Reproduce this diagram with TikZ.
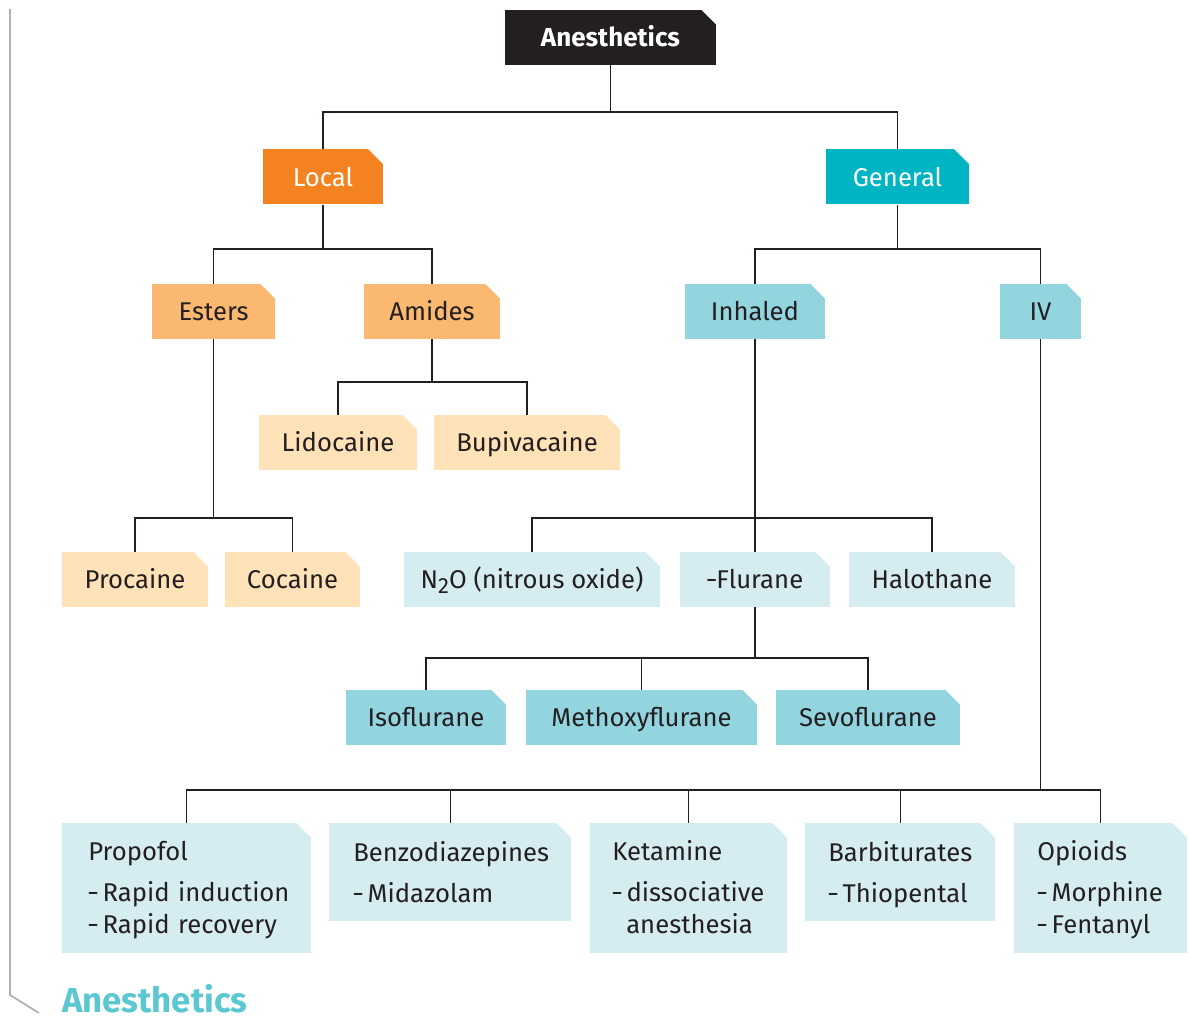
\documentclass[tikz,border=0pt]{standalone}
\usepackage{fontspec}
\setmainfont{Fira Sans}
\definecolor{ink}{HTML}{231F20}
\definecolor{cLocal}{HTML}{F58220}
\definecolor{cGeneral}{HTML}{00B5C3}
\definecolor{cOrangeM}{HTML}{FBB870}
\definecolor{cTealM}{HTML}{93D5DE}
\definecolor{cOrangeL}{HTML}{FFE2B8}
\definecolor{cTealL}{HTML}{D5EDF1}
\definecolor{cTitle}{HTML}{5BC7D1}
\definecolor{cBorder}{HTML}{B0B0B0}
\newcommand\shortdash{\scalebox{0.72}[1]{–}}
\newcommand\itemline[1]{\mbox{\shortdash\hspace{3.5pt}#1}}
\tikzset{
  cutbox/.style={rectangle, inner sep=0pt, minimum height=41.25pt,
    text height=17pt, text depth=3pt,
    font=\fontsize{19.25}{24.5}\selectfont, text=ink,
    path picture={\fill[white] ([xshift=0.5pt,yshift=0.5pt]path picture bounding box.north east) -- ++(-11.75pt,0) -- ++(11.75pt,-11.75pt) -- cycle;}},
  toplevel/.style={cutbox, fill=ink, text=white, font=\fontsize{19.5}{24}\selectfont\bfseries},
  lvlone/.style={cutbox, text=white},
  listbox/.style={cutbox, anchor=north west, fill=cTealL, align=left,
    inner ysep=0pt, text height=0pt, text width=#1},
  threeline/.style={minimum height=97.5pt, text depth=42pt},
  twoline/.style={minimum height=73.5pt, text depth=16.5pt},
  link/.style={draw=ink, line width=0.9pt},
}
\begin{document}
\begin{tikzpicture}[x=0.75pt,y=-0.75pt]
\useasboundingbox (0,0) rectangle (1189,1019);
\draw[cBorder, line width=1.3pt] (10,9) -- (10,995) -- (39,1013);

\node[toplevel, minimum width=158.25pt] (A) at (610.5,37.5) {Anesthetics};
\node[lvlone, fill=cLocal, minimum width=90pt] (L) at (323,177) {Local};
\node[lvlone, fill=cGeneral, minimum width=107.25pt] (G) at (897.5,177) {General};

\node[cutbox, fill=cOrangeM, minimum width=92.25pt] (Es) at (213.5,311.5) {Esters};
\node[cutbox, fill=cOrangeM, minimum width=102pt] (Am) at (432,311.5) {Amides};
\node[cutbox, fill=cTealM, minimum width=105pt] (In) at (755,311.5) {Inhaled};
\node[cutbox, fill=cTealM, minimum width=60.75pt] (IV) at (1040.5,311.5) {IV};

\node[cutbox, fill=cOrangeL, minimum width=118.5pt] (Li) at (338,442.5) {Lidocaine};
\node[cutbox, fill=cOrangeL, minimum width=139.5pt] (Bu) at (527,442.5) {Bupivacaine};
\node[cutbox, fill=cOrangeL, minimum width=109.5pt] (Pr) at (135,579.5) {Procaine};
\node[cutbox, fill=cOrangeL, minimum width=101.25pt] (Co) at (292.5,579.5) {Cocaine};

\node[cutbox, fill=cTealL, minimum width=192pt] (N2) at (532,579.5) {N\raisebox{-3.5pt}{\fontsize{16.5}{16.5}\selectfont 2}O (nitrous oxide)};
\node[cutbox, fill=cTealL, minimum width=112.5pt] (Fl) at (755,579.5) {\shortdash Flurane};
\node[cutbox, fill=cTealL, minimum width=124.5pt] (Ha) at (932,579.5) {Halothane};

\node[cutbox, fill=cTealM, minimum width=120pt] (Is) at (426,717.5) {Isoflurane};
\node[cutbox, fill=cTealM, minimum width=173.25pt] (Me) at (641.5,717.5) {Methoxyflurane};
\node[cutbox, fill=cTealM, minimum width=138pt] (Se) at (868,717.5) {Sevoflurane};

\node[listbox=147.75pt, threeline, inner xsep=19.5pt] (Po) at (62,823)
  {\mbox{Propofol}\\[6.25pt]\itemline{Rapid induction}\\\itemline{Rapid recovery}};
\node[listbox=145.5pt, twoline, inner xsep=18pt] (Be) at (329,823)
  {\mbox{Benzodiazepines}\\[6.25pt]\itemline{Midazolam}};
\node[listbox=114.75pt, threeline, inner xsep=16.5pt] (Ke) at (590,823)
  {\mbox{Ketamine}\\[6.25pt]\itemline{dissociative}\\\mbox{\hspace*{10.5pt}anesthesia}};
\node[listbox=108pt, twoline, inner xsep=17.25pt] (Ba) at (805,823)
  {\mbox{Barbiturates}\\[6.25pt]\itemline{Thiopental}};
\node[listbox=95.25pt, threeline, inner xsep=17.25pt] (Op) at (1014,823)
  {\mbox{Opioids}\\[6.25pt]\itemline{Morphine}\\\itemline{Fentanyl}};

% connectors
\draw[link] (A.south) -- (A.south |- 0,112) -| (L.north);
\draw[link] (A.south |- 0,112) -| (G.north);
\draw[link] (L.south) -- (L.south |- 0,249) -| (Es.north);
\draw[link] (L.south |- 0,249) -| (Am.north);
\draw[link] (G.south) -- (G.south |- 0,249) -| (In.north);
\draw[link] (G.south |- 0,249) -| (IV.north);
\draw[link] (Am.south) -- (Am.south |- 0,382) -| (Li.north);
\draw[link] (Am.south |- 0,382) -| (Bu.north);
\draw[link] (Es.south) -- (Es.south |- 0,518) -| (Pr.north);
\draw[link] (Es.south |- 0,518) -| (Co.north);
\draw[link] (In.south) -- (Fl.north);
\draw[link] (In.south |- 0,518) -| (N2.north);
\draw[link] (In.south |- 0,518) -| (Ha.north);
\draw[link] (Fl.south) -- (Fl.south |- 0,658) -| (Me.north);
\draw[link] (Fl.south |- 0,658) -| (Is.north);
\draw[link] (Fl.south |- 0,658) -| (Se.north);
\draw[link] (IV.south) -- (IV.south |- 0,790) -| (Op.north);
\draw[link] (IV.south |- 0,790) -| (Po.north);
\draw[link] (IV.south |- 0,790) -| (Be.north);
\draw[link] (IV.south |- 0,790) -| (Ke.north);
\draw[link] (IV.south |- 0,790) -| (Ba.north);

\node[anchor=base west, inner sep=0pt, text=cTitle, font=\fontsize{26}{30}\selectfont\bfseries] (T) at (62,1012) {Anesthetics};
\end{tikzpicture}
\end{document}
